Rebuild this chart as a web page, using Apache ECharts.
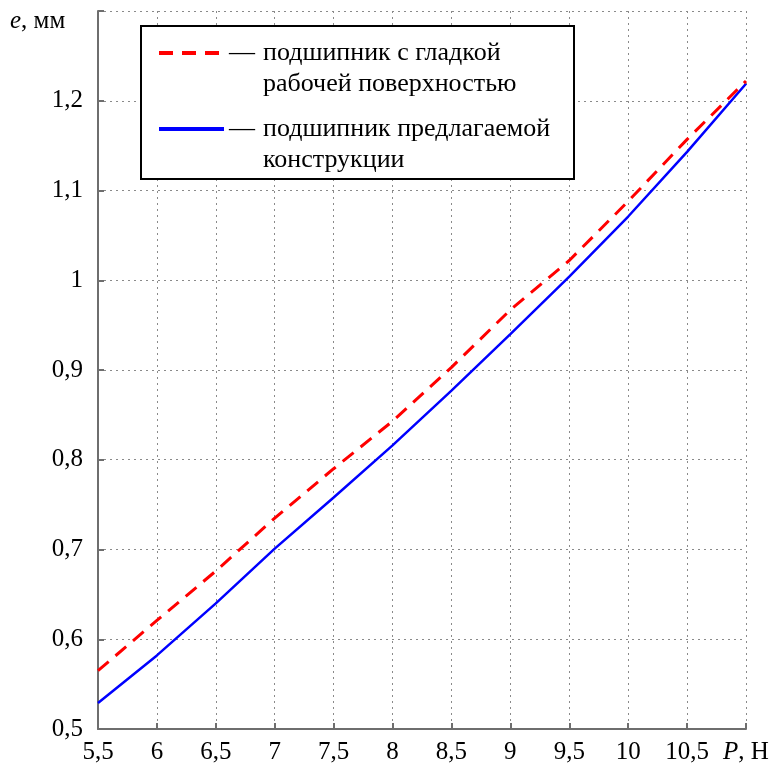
<!DOCTYPE html>
<html>
<head>
<meta charset="utf-8">
<script src="https://cdn.jsdelivr.net/npm/echarts@6/dist/echarts.min.js"></script>
<style>
html, body { margin: 0; padding: 0; background: #fff; }
#chart { width: 784px; height: 767px; }
</style>
</head>
<body>
<div id="chart"></div>
<script>
// нагрузка P, Н
var loadP = [5.5, 6, 6.5, 7, 7.5, 8, 8.5, 9, 9.5, 10, 10.5, 11];
// эксцентриситет e, мм
var smoothBearing = [0.565, 0.621, 0.676, 0.735, 0.790, 0.843, 0.903, 0.967, 1.022, 1.088, 1.157, 1.222];
var proposedBearing = [0.529, 0.582, 0.640, 0.701, 0.758, 0.816, 0.877, 0.940, 1.004, 1.071, 1.143, 1.219];
var legendLines = [
  ['подшипник с гладкой', 'рабочей поверхностью'],
  ['подшипник предлагаемой', 'конструкции']
];
var seriesNames = legendLines.map(function (l) { return l.join(' '); });

var FONT = "'Liberation Serif', 'Times New Roman', serif";
var AXIS_GRAY = '#6e6e6e';

function pairs(ys) {
  return loadP.map(function (x, i) { return [x, ys[i]]; });
}
function comma(v) {
  return String(+v.toFixed(2)).replace('.', ',');
}

var chart = echarts.init(document.getElementById('chart'));

var option = {
  animation: false,
  backgroundColor: '#fff',
  grid: {
    left: 98,
    right: 38,
    top: 11,
    bottom: 38,
    outerBoundsMode: 'none'
  },
  xAxis: {
    type: 'value',
    min: 5.5,
    max: 11,
    interval: 0.5,
    axisLine: { lineStyle: { color: AXIS_GRAY, width: 2 } },
    axisTick: { inside: true, length: 6, lineStyle: { color: AXIS_GRAY, width: 2 } },
    splitLine: { lineStyle: { color: '#8a8a8a', width: 1, type: [2, 4] } },
    axisLabel: {
      margin: 11,
      color: '#000',
      fontFamily: FONT,
      fontSize: 25,
      formatter: function (v) {
        if (v >= 10.99) return '{i|P}, Н';
        return comma(v);
      },
      rich: {
        i: { fontStyle: 'italic', fontFamily: FONT, fontSize: 25, color: '#000' }
      }
    }
  },
  yAxis: {
    type: 'value',
    min: 0.5,
    max: 1.3,
    interval: 0.1,
    axisLine: { show: true, lineStyle: { color: AXIS_GRAY, width: 2 } },
    axisTick: { show: true, inside: true, length: 6, lineStyle: { color: AXIS_GRAY, width: 2 } },
    splitLine: { lineStyle: { color: '#8a8a8a', width: 1, type: [2, 4] } },
    axisLabel: {
      margin: 15,
      color: '#000',
      fontFamily: FONT,
      fontSize: 25,
      formatter: function (v) {
        if (v > 1.25) return '';
        return comma(v);
      }
    }
  },
  legend: {
    left: 141,
    top: 26,
    orient: 'vertical',
    itemWidth: 65,
    itemHeight: 14,
    itemGap: -17,
    padding: [-19.5, 15, 3.5, 16],
    backgroundColor: '#fff',
    borderColor: '#000',
    borderWidth: 2,
    borderRadius: 0,
    selectedMode: false,
    lineStyle: { width: 4 },
    itemStyle: { color: 'rgba(0,0,0,0)', borderWidth: 0, opacity: 0 },
    data: seriesNames,
    formatter: function (name) {
      var l = legendLines[seriesNames.indexOf(name)];
      return '{d|—}{t|' + l[0] + '}\n{t2|' + l[1] + '}';
    },
    textStyle: {
      color: '#000',
      fontFamily: FONT,
      fontSize: 26,
      lineHeight: 31,
      width: 330,
      padding: [31, 0, 0, 0],
      rich: {
        d: { width: 34, fontFamily: FONT, fontSize: 26, lineHeight: 31, color: '#000' },
        t: { fontFamily: FONT, fontSize: 26, lineHeight: 31, color: '#000' },
        t2: { fontFamily: FONT, fontSize: 26, lineHeight: 31, color: '#000', padding: [0, 0, 0, 34] }
      }
    }
  },
  graphic: [{
    type: 'text',
    left: 10,
    top: 9,
    style: {
      text: '{i|e}, мм',
      fill: '#000',
      font: '25px ' + FONT,
      rich: {
        i: { fontStyle: 'italic', fontFamily: FONT, fontSize: 25, fill: '#000' }
      }
    }
  }],
  series: [
    {
      name: seriesNames[0],
      type: 'line',
      symbol: 'none',
      data: pairs(smoothBearing),
      lineStyle: { color: '#ff0000', width: 3, type: [14, 9] },
      itemStyle: { color: '#ff0000' },
      z: 3
    },
    {
      name: seriesNames[1],
      type: 'line',
      symbol: 'none',
      data: pairs(proposedBearing),
      lineStyle: { color: '#0000ff', width: 2.5 },
      itemStyle: { color: '#0000ff' },
      z: 2
    }
  ]
};

chart.setOption(option);
</script>
</body>
</html>
